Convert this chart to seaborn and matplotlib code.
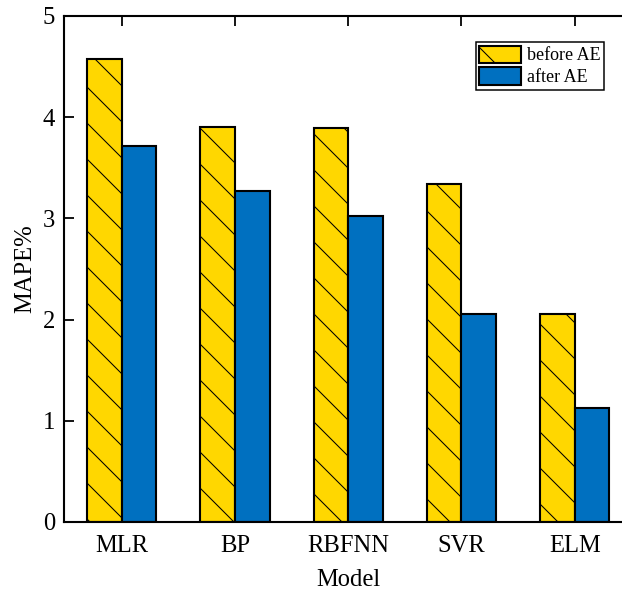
import pandas as pd
import matplotlib
matplotlib.use("Agg")
import matplotlib.pyplot as plt
import seaborn as sns
from matplotlib.patches import Patch

models = ["MLR", "BP", "RBFNN", "SVR", "ELM"]
before_ae = [4.58, 3.90, 3.89, 3.34, 2.06]
after_ae = [3.72, 3.27, 3.02, 2.06, 1.13]
series = ["before AE", "after AE"]
colors = ["#FFD700", "#0070C0"]

df = pd.DataFrame({
    "Model": models * 2,
    "MAPE": before_ae + after_ae,
    "Stage": [series[0]] * len(models) + [series[1]] * len(models),
})

sns.set_style("white")
plt.rcParams["font.family"] = ["Liberation Serif", "DejaVu Serif"]
plt.rcParams["hatch.linewidth"] = 0.35
plt.rcParams["text.color"] = "black"
plt.rcParams["axes.labelcolor"] = "black"

DPI = 216
fig = plt.figure(figsize=(622 / DPI, 592 / DPI), dpi=DPI)
ax = fig.add_axes([64 / 622, 70 / 592, 568.5 / 622, 506 / 592])

sns.barplot(data=df, x="Model", y="MAPE", hue="Stage", palette=colors,
            saturation=1, width=0.61, edgecolor="black", linewidth=0.7, ax=ax)

# hatch the "before" bars
for bar in ax.containers[0]:
    bar.set_hatch("\\\\")

ax.set_xlim(-0.51, 4.51)
ax.set_ylim(0, 5)
ax.set_yticks([0, 1, 2, 3, 4, 5])
ax.set_xlabel("Model", fontsize=8.2, labelpad=4)
ax.set_ylabel("MAPE%", fontsize=8.2, labelpad=2)

ax.tick_params(axis="both", direction="in", length=3.3, width=0.6,
               labelsize=8.2, colors="black")
ax.tick_params(axis="x", top=True, bottom=True, pad=4.5)
ax.tick_params(axis="y", left=True, right=True, pad=3)
for s in ax.spines.values():
    s.set_linewidth(0.7)
    s.set_color("black")

handles = [Patch(facecolor=colors[0], edgecolor="black", hatch="\\", linewidth=0.7),
           Patch(facecolor=colors[1], edgecolor="black", linewidth=0.7)]
leg = ax.legend(handles, series, loc="upper right",
                bbox_to_anchor=(604 / 622, 1 - 42 / 592),
                bbox_transform=fig.transFigure, borderaxespad=0,
                fontsize=6, handlelength=2.3, handleheight=1.1,
                handletextpad=0.33, labelspacing=0.17, borderpad=0.2,
                fancybox=False, framealpha=1, edgecolor="black")
leg.get_frame().set_linewidth(0.5)

fig.savefig("out.png", dpi=DPI)
